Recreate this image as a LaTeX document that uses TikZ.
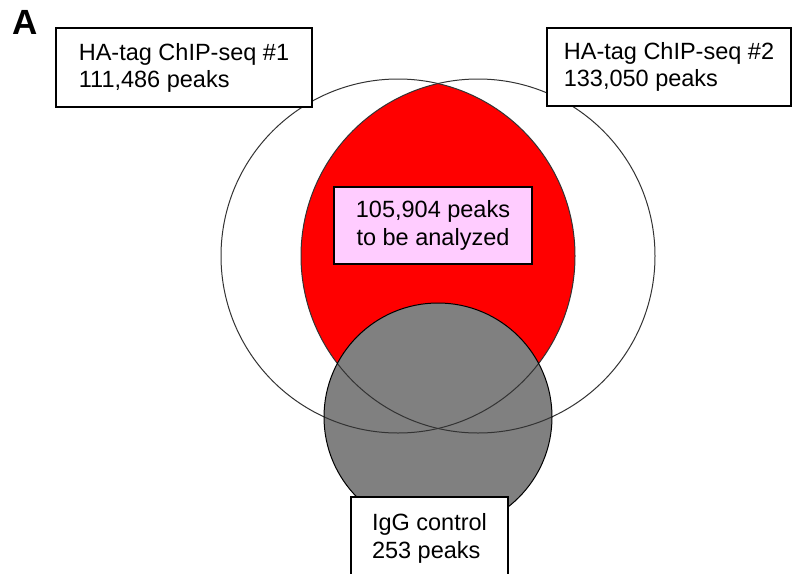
\documentclass[tikz,border=0pt]{standalone}
\usepackage{fontspec}
\setmainfont{Liberation Sans}
\usepackage{tikz}
\definecolor{peakpink}{RGB}{255,204,255}
\begin{document}
\begin{tikzpicture}[x=1pt,y=-1pt,
  countbox/.style={draw=black,line width=1.3pt,fill=white,align=left,inner sep=0pt,
    font=\fontsize{23.5}{27}\selectfont},
  setline/.style={draw=black!80,line width=1pt}]
\useasboundingbox (0,0) rectangle (792,573);
\begin{scope}
\clip (398,256) circle (177);
\fill [red] (478,256) circle (177);
\end{scope}
\fill [black!50] (438,417) circle (114);
\draw [setline] (398,256) circle (177);
\draw [setline] (478,256) circle (177);
\draw [black,line width=1pt] (438,417) circle (114);
\node [font=\fontsize{35}{35}\selectfont\bfseries] (panel) at (25.5,22.5) {A};
\node [countbox,minimum width=256pt,minimum height=79pt] (chip1) at (184,67.5) {HA-tag ChIP-seq \#1\\111,486 peaks};
\node [countbox,minimum width=244pt,minimum height=78pt] (chip2) at (669,67) {HA-tag ChIP-seq \#2\\133,050 peaks};
\node [countbox,fill=peakpink,align=center,minimum width=198pt,minimum height=77pt,
  font=\fontsize{23.5}{28}\selectfont] (common) at (433,225.5) {105,904 peaks\\to be analyzed};
\node [countbox,minimum width=157pt,minimum height=82pt,
  font=\fontsize{23.5}{28}\selectfont] (igg) at (429.5,538) {IgG control\\253 peaks};
\end{tikzpicture}
\end{document}
